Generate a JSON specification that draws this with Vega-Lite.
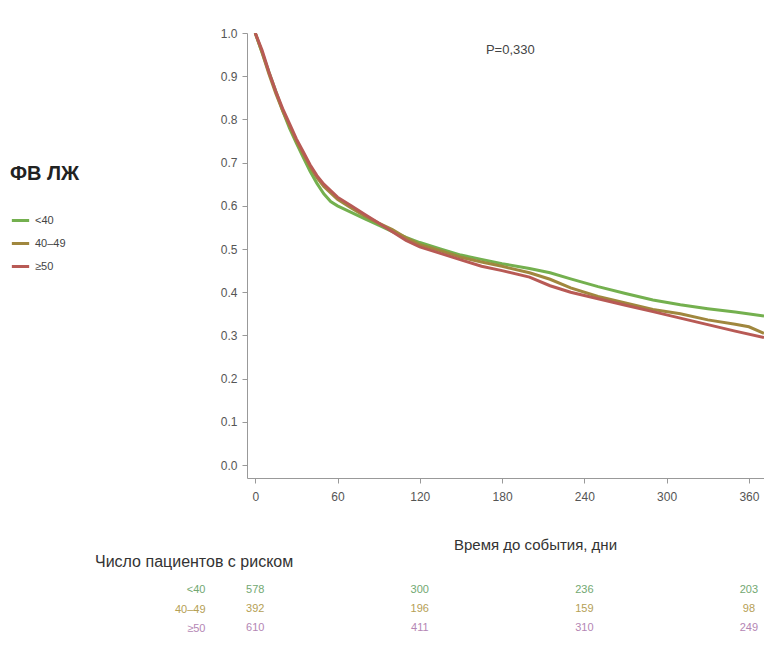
{
  "$schema": "https://vega.github.io/schema/vega-lite/v6.json",
  "background": "#ffffff",
  "padding": {"left": 10, "top": 27, "right": 0, "bottom": 5},
  "bounds": "flush",
  "spacing": 102,
  "config": {
    "view": {"stroke": null},
    "font": "Liberation Sans",
    "axis": {"grid": false}
  },
  "datasets": {
    "curves": [
      {"g":"<40","d":0,"s":1.0},{"g":"<40","d":5,"s":0.955},{"g":"<40","d":10,"s":0.91},{"g":"<40","d":15,"s":0.865},{"g":"<40","d":20,"s":0.82},{"g":"<40","d":25,"s":0.78},{"g":"<40","d":30,"s":0.745},{"g":"<40","d":35,"s":0.712},{"g":"<40","d":40,"s":0.68},{"g":"<40","d":45,"s":0.652},{"g":"<40","d":50,"s":0.628},{"g":"<40","d":55,"s":0.61},{"g":"<40","d":60,"s":0.6},{"g":"<40","d":70,"s":0.585},{"g":"<40","d":80,"s":0.57},{"g":"<40","d":90,"s":0.555},{"g":"<40","d":100,"s":0.54},{"g":"<40","d":110,"s":0.527},{"g":"<40","d":120,"s":0.515},{"g":"<40","d":135,"s":0.5},{"g":"<40","d":150,"s":0.486},{"g":"<40","d":165,"s":0.476},{"g":"<40","d":180,"s":0.466},{"g":"<40","d":200,"s":0.455},{"g":"<40","d":215,"s":0.445},{"g":"<40","d":230,"s":0.431},{"g":"<40","d":250,"s":0.413},{"g":"<40","d":270,"s":0.397},{"g":"<40","d":290,"s":0.382},{"g":"<40","d":310,"s":0.371},{"g":"<40","d":330,"s":0.362},{"g":"<40","d":350,"s":0.354},{"g":"<40","d":371,"s":0.345},
      {"g":"40–49","d":0,"s":1.0},{"g":"40–49","d":5,"s":0.955},{"g":"40–49","d":10,"s":0.905},{"g":"40–49","d":15,"s":0.86},{"g":"40–49","d":20,"s":0.82},{"g":"40–49","d":25,"s":0.785},{"g":"40–49","d":30,"s":0.75},{"g":"40–49","d":35,"s":0.72},{"g":"40–49","d":40,"s":0.69},{"g":"40–49","d":45,"s":0.665},{"g":"40–49","d":50,"s":0.645},{"g":"40–49","d":55,"s":0.63},{"g":"40–49","d":60,"s":0.615},{"g":"40–49","d":70,"s":0.595},{"g":"40–49","d":80,"s":0.576},{"g":"40–49","d":90,"s":0.56},{"g":"40–49","d":100,"s":0.545},{"g":"40–49","d":110,"s":0.526},{"g":"40–49","d":120,"s":0.51},{"g":"40–49","d":135,"s":0.496},{"g":"40–49","d":150,"s":0.481},{"g":"40–49","d":165,"s":0.47},{"g":"40–49","d":180,"s":0.46},{"g":"40–49","d":200,"s":0.445},{"g":"40–49","d":215,"s":0.43},{"g":"40–49","d":230,"s":0.41},{"g":"40–49","d":250,"s":0.39},{"g":"40–49","d":270,"s":0.375},{"g":"40–49","d":290,"s":0.36},{"g":"40–49","d":310,"s":0.35},{"g":"40–49","d":330,"s":0.336},{"g":"40–49","d":350,"s":0.326},{"g":"40–49","d":360,"s":0.32},{"g":"40–49","d":371,"s":0.305},
      {"g":"≥50","d":0,"s":1.0},{"g":"≥50","d":5,"s":0.96},{"g":"≥50","d":10,"s":0.91},{"g":"≥50","d":15,"s":0.865},{"g":"≥50","d":20,"s":0.825},{"g":"≥50","d":25,"s":0.79},{"g":"≥50","d":30,"s":0.755},{"g":"≥50","d":35,"s":0.725},{"g":"≥50","d":40,"s":0.695},{"g":"≥50","d":45,"s":0.67},{"g":"≥50","d":50,"s":0.65},{"g":"≥50","d":55,"s":0.635},{"g":"≥50","d":60,"s":0.62},{"g":"≥50","d":70,"s":0.6},{"g":"≥50","d":80,"s":0.58},{"g":"≥50","d":90,"s":0.56},{"g":"≥50","d":100,"s":0.54},{"g":"≥50","d":110,"s":0.52},{"g":"≥50","d":120,"s":0.505},{"g":"≥50","d":135,"s":0.49},{"g":"≥50","d":150,"s":0.475},{"g":"≥50","d":165,"s":0.46},{"g":"≥50","d":180,"s":0.45},{"g":"≥50","d":200,"s":0.435},{"g":"≥50","d":215,"s":0.415},{"g":"≥50","d":230,"s":0.4},{"g":"≥50","d":250,"s":0.385},{"g":"≥50","d":270,"s":0.37},{"g":"≥50","d":290,"s":0.355},{"g":"≥50","d":310,"s":0.34},{"g":"≥50","d":330,"s":0.325},{"g":"≥50","d":350,"s":0.31},{"g":"≥50","d":371,"s":0.295}
    ],
    "risk": [
      {"g":"<40","d":0,"n":578},{"g":"<40","d":120,"n":300},{"g":"<40","d":240,"n":236},{"g":"<40","d":360,"n":203},
      {"g":"40–49","d":0,"n":392},{"g":"40–49","d":120,"n":196},{"g":"40–49","d":240,"n":159},{"g":"40–49","d":360,"n":98},
      {"g":"≥50","d":0,"n":610},{"g":"≥50","d":120,"n":411},{"g":"≥50","d":240,"n":310},{"g":"≥50","d":360,"n":249}
    ],
    "note": [{"label":"P=0,330","d":186,"s":0.96}]
  },
  "vconcat": [
    {
      "width": 517,
      "height": 445,
      "layer": [
        {
          "data": {"name": "curves"},
          "mark": {"type": "line", "strokeWidth": 3, "clip": true},
          "encoding": {
            "x": {"field": "d", "type": "quantitative",
              "scale": {"domain": [-6, 371], "nice": false, "zero": false},
              "axis": {"values": [0, 60, 120, 180, 240, 300, 360], "title": "Время до события, дни",
                "titleFontSize": 15, "titleFontWeight": "normal", "titleColor": "#333", "titlePadding": 35, "titleX": 288,
                "labelFontSize": 12, "labelColor": "#555", "labelPadding": 8, "tickSize": 5,
                "domainColor": "#999", "tickColor": "#999"}},
            "y": {"field": "s", "type": "quantitative",
              "scale": {"domain": [-0.03, 1.0], "nice": false, "zero": false},
              "axis": {"values": [0, 0.1, 0.2, 0.3, 0.4, 0.5, 0.6, 0.7, 0.8, 0.9, 1.0], "format": ".1f", "title": null,
                "labelFontSize": 12, "labelColor": "#555", "labelPadding": 5, "tickSize": 5,
                "domainColor": "#999", "tickColor": "#999"}},
            "color": {"field": "g", "type": "nominal",
              "scale": {"domain": ["<40", "40–49", "≥50"], "range": ["#74b04f", "#a0873e", "#b85a55"]},
              "legend": {"orient": "none", "legendX": -237, "legendY": 131, "title": "ФВ ЛЖ",
                "titleFontSize": 20, "titleFontWeight": "bold", "titleColor": "#222", "titlePadding": 26,
                "labelFontSize": 11, "labelColor": "#444", "symbolType": "stroke", "symbolStrokeWidth": 3,
                "symbolSize": 300, "rowPadding": 6}}
          }
        },
        {
          "data": {"name": "note"},
          "mark": {"type": "text", "fontSize": 13, "color": "#444"},
          "encoding": {
            "x": {"field": "d", "type": "quantitative"},
            "y": {"field": "s", "type": "quantitative"},
            "text": {"field": "label"}
          }
        }
      ]
    },
    {
      "width": 517,
      "height": 58,
      "data": {"name": "risk"},
      "title": {"text": "Число пациентов с риском", "anchor": "start", "frame": "group", "dx": -152, "offset": 10,
        "fontSize": 16, "fontWeight": "normal", "color": "#333"},
      "mark": {"type": "text", "fontSize": 11},
      "encoding": {
        "x": {"field": "d", "type": "quantitative", "scale": {"domain": [-6, 371], "nice": false, "zero": false}, "axis": null},
        "y": {"field": "g", "type": "nominal", "scale": {"domain": ["<40", "40–49", "≥50"], "paddingInner": 0, "paddingOuter": 0},
          "axis": {"title": null, "domain": false, "ticks": false, "labelPadding": 42, "labelFontSize": 11,
            "labelColor": {"condition": [{"test": "datum.value === '<40'", "value": "#72a872"}, {"test": "datum.value === '40–49'", "value": "#b5a055"}], "value": "#b486b4"}}},
        "text": {"field": "n", "type": "quantitative"},
        "color": {"field": "g", "type": "nominal",
          "scale": {"domain": ["<40", "40–49", "≥50"], "range": ["#72a872", "#b5a055", "#b486b4"]}, "legend": null}
      }
    }
  ],
  "resolve": {"scale": {"color": "independent", "x": "independent", "y": "independent"}, "legend": {"color": "independent"}}
}
